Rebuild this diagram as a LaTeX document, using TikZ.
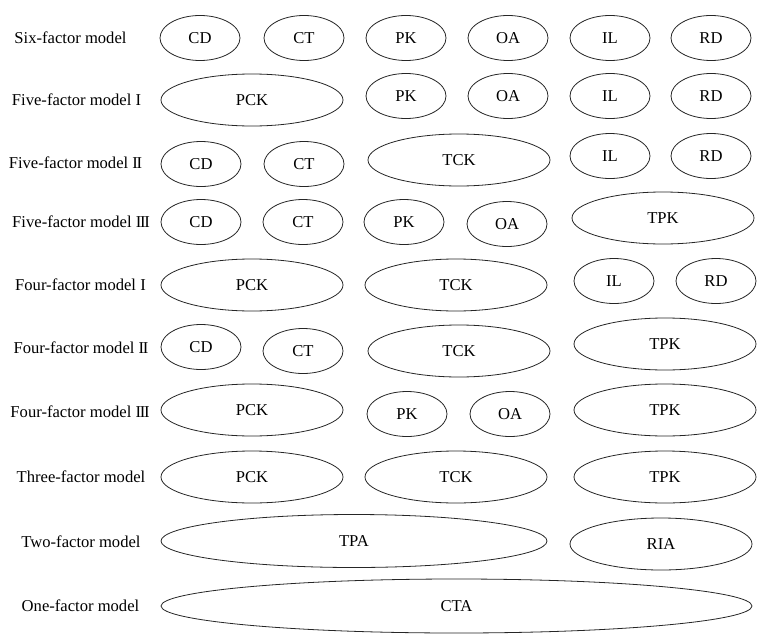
\documentclass[tikz,border=0pt]{standalone}
\usepackage{fontspec}
\setmainfont{Liberation Serif}
\usetikzlibrary{shapes.geometric}
\newcommand{\rnII}{I\kern-1.3ptI}
\newcommand{\rnIII}{I\kern-1.3ptI\kern-1.3ptI}
\tikzset{
  base/.style={ellipse, draw=black!85, line width=0.8pt, inner sep=0pt, font=\fontsize{16.6}{20}\selectfont},
  sm/.style={base, minimum width=80pt, minimum height=45pt},
  md/.style={base, minimum width=182pt, minimum height=52pt},
  lab/.style={inner sep=0pt, font=\fontsize{16.6}{20}\selectfont}
}
\begin{document}
\begin{tikzpicture}[x=1pt,y=-1pt]
\useasboundingbox (0,0) rectangle (768,634);
% Row 1
\node[lab] (l1) at (70.5,38) {Six-factor model};
\node[sm] (r1a) at (200,38) {CD};
\node[sm] (r1b) at (304,38) {CT};
\node[sm] (r1c) at (406,38) {PK};
\node[sm] (r1d) at (508,38) {OA};
\node[sm] (r1e) at (610,38) {IL};
\node[sm] (r1f) at (711,38) {RD};
% Row 2
\node[lab] (l2) at (76.5,100) {Five-factor model I};
\node[md] (r2a) at (252,100) {PCK};
\node[sm] (r2b) at (406,96) {PK};
\node[sm] (r2c) at (508,96) {OA};
\node[sm] (r2d) at (610,96) {IL};
\node[sm] (r2e) at (711,96) {RD};
% Row 3
\node[lab] (l3) at (75.5,163) {Five-factor model \rnII};
\node[sm] (r3a) at (201,164) {CD};
\node[sm] (r3b) at (304,164) {CT};
\node[md] (r3c) at (459,160) {TCK};
\node[sm] (r3d) at (610,156) {IL};
\node[sm] (r3e) at (711,156) {RD};
% Row 4
\node[lab] (l4) at (81,222) {Five-factor model \rnIII};
\node[sm] (r4a) at (201,222) {CD};
\node[sm] (r4b) at (303,222) {CT};
\node[sm] (r4c) at (404,222) {PK};
\node[sm] (r4d) at (507,224) {OA};
\node[md] (r4e) at (663,218) {TPK};
% Row 5
\node[lab] (l5) at (80.5,285) {Four-factor model I};
\node[md] (r5a) at (252,285) {PCK};
\node[md] (r5b) at (456,285) {TCK};
\node[sm] (r5c) at (614,281) {IL};
\node[sm] (r5d) at (716,281) {RD};
% Row 6
\node[lab] (l6) at (81,348) {Four-factor model \rnII};
\node[sm] (r6a) at (201,347) {CD};
\node[sm] (r6b) at (303,351) {CT};
\node[md] (r6c) at (459,351) {TCK};
\node[md] (r6d) at (665,344) {TPK};
% Row 7
\node[lab] (l7) at (80,412) {Four-factor model \rnIII};
\node[md] (r7a) at (252,410) {PCK};
\node[sm] (r7b) at (407,414) {PK};
\node[sm] (r7c) at (510,414) {OA};
\node[md] (r7d) at (665,410) {TPK};
% Row 8
\node[lab] (l8) at (81,477) {Three-factor model};
\node[md] (r8a) at (252,477) {PCK};
\node[md] (r8b) at (456,477) {TCK};
\node[md] (r8c) at (665,477) {TPK};
% Row 9
\node[lab] (l9) at (81,542) {Two-factor model};
\node[base, minimum width=386pt, minimum height=53pt] (r9a) at (354,541) {TPA};
\node[base, minimum width=182pt, minimum height=52pt] (r9b) at (661,544) {RIA};
% Row 10
\node[lab] (l10) at (80.5,606) {One-factor model};
\node[base, minimum width=591pt, minimum height=54pt] (r10a) at (456.5,606) {CTA};
\end{tikzpicture}
\end{document}
